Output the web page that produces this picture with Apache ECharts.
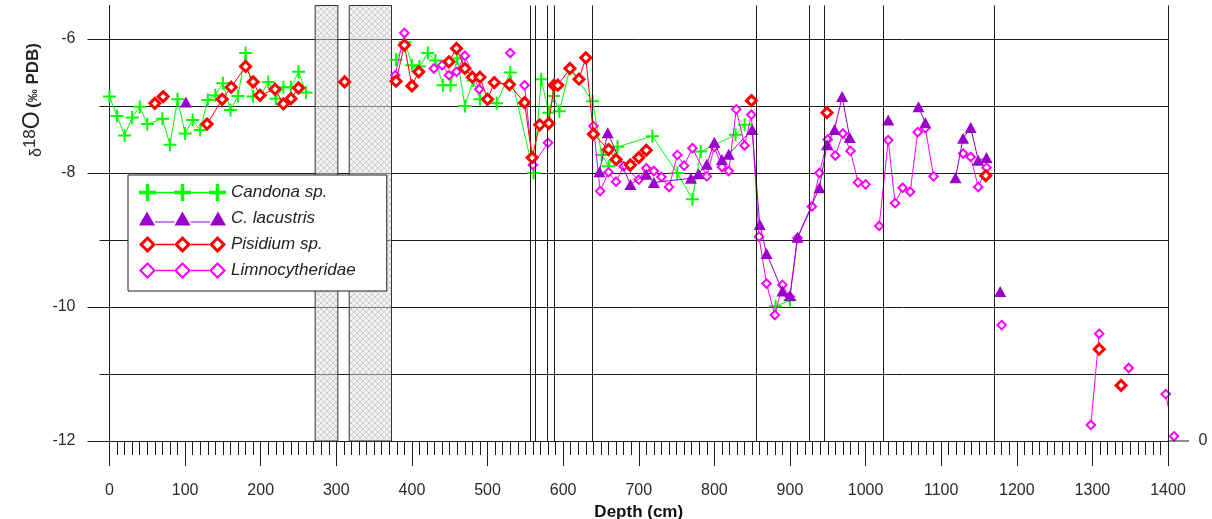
<!DOCTYPE html>
<html>
<head>
<meta charset="utf-8">
<script src="https://cdn.jsdelivr.net/npm/echarts@6/dist/echarts.min.js"></script>
<style>
html,body{margin:0;padding:0;background:#fff;}
#chart{width:1212px;height:519px;}
</style>
</head>
<body>
<div id="chart"></div>
<script>
// ---------------- data (depth in cm, d18O in ‰ PDB); null = break in the line
const candonaDepth = [0,10,20,30,40,50,70,80,90,100,110,120,130,140,150,160,170,180,190,200,210,220,230,240,250,260,null,379,391,400,410,421,431,441,451,460,470,481,490,499,512,530,561,571,581,587,595,609,639,651,660,672,718,751,771,782,828,840,null,881,900];
const candonaD18O = [-6.86,-7.15,-7.44,-7.17,-7.01,-7.27,-7.19,-7.58,-6.90,-7.41,-7.21,-7.36,-6.91,-6.84,-6.66,-7.06,-6.85,-6.21,-6.86,-6.84,-6.64,-6.89,-6.72,-6.72,-6.49,-6.80,null,-6.31,-6.05,-6.39,-6.41,-6.21,-6.32,-6.69,-6.69,-6.29,-7.00,-6.62,-6.90,-6.90,-6.96,-6.50,-8.00,-6.60,-7.10,-6.85,-7.08,-6.44,-6.93,-7.73,-7.90,-7.61,-7.45,-8.00,-8.39,-7.68,-7.43,-7.28,null,-9.99,-9.90];

const lacustrisDepth = [101,null,648,659,689,710,720,769,779,790,800,810,819,850,860,869,890,900,910,939,949,959,969,979,null,1030,null,1070,1079,null,1119,1129,1139,1149,1160,null,1178];
const lacustrisD18O = [-6.94,null,-7.98,-7.40,-8.17,-8.02,-8.14,-8.08,-8.01,-7.87,-7.54,-7.80,-7.72,-7.35,-8.77,-9.20,-9.76,-9.83,-8.96,-8.22,-7.58,-7.35,-6.86,-7.47,null,-7.21,null,-7.01,-7.25,null,-8.07,-7.48,-7.32,-7.81,-7.77,null,-9.77];

const pisidiumDepth = [60,71,null,129,149,161,180,190,199,219,230,240,250,null,311,null,379,390,400,409,null,449,459,470,480,490,500,509,529,549,559,569,581,588,593,609,621,630,640,660,670,689,700,710,null,849,null,949,null,1159,null,1309,null,1338];
const pisidiumD18O = [-6.96,-6.86,null,-7.27,-6.90,-6.72,-6.41,-6.64,-6.84,-6.75,-6.97,-6.89,-6.73,null,-6.64,null,-6.63,-6.09,-6.70,-6.49,null,-6.34,-6.14,-6.44,-6.57,-6.57,-6.90,-6.65,-6.68,-6.95,-7.77,-7.28,-7.26,-6.69,-6.69,-6.44,-6.60,-6.28,-7.42,-7.65,-7.80,-7.88,-7.77,-7.66,null,-6.92,null,-7.10,null,-8.04,null,-10.63,null,-11.17];

const limnoDepth = [378,390,null,429,440,449,459,470,489,null,530,null,549,560,580,null,640,649,660,670,680,700,710,720,730,740,751,760,771,790,800,810,819,829,840,849,859,869,880,890,900,910,929,939,950,960,970,980,990,1000,null,1018,1030,1039,1049,1059,1069,1079,1090,null,1129,1139,1149,1160,null,1180,null,1298,1309,null,1348,null,1397,1408];
const limnoD18O = [-6.54,-5.91,null,-6.44,-6.39,-6.54,-6.49,-6.25,-6.75,null,-6.21,null,-6.69,-7.88,-7.55,null,-7.30,-8.27,-7.99,-8.13,-7.90,-8.10,-7.93,-7.97,-8.06,-8.21,-7.73,-7.89,-7.63,-8.05,-7.61,-7.91,-7.97,-7.05,-7.59,-7.13,-8.95,-9.65,-10.12,-9.67,-9.85,-8.97,-8.50,-8.00,-7.50,-7.74,-7.41,-7.67,-8.14,-8.17,null,-8.79,-7.51,-8.45,-8.22,-8.28,-7.39,-7.33,-8.05,null,-7.71,-7.76,-8.21,-7.92,null,-10.27,null,-11.76,-10.40,null,-10.91,null,-11.30,-11.93];

const boundaryDepths = [556,563,579,588,638,856,925,945,1023,1170,1400];
const gapStart = [272,317];
const gapEnd = [302,373];

const seriesNames = ['Candona sp.','C. lacustris','Pisidium sp.','Limnocytheridae'];
const xTicks = [0,100,200,300,400,500,600,700,800,900,1000,1100,1200,1300,1400];
const yLabelTicks = [-12,-10,-8,-6];
const yGridTicks = [-12,-11,-10,-9,-8,-7,-6];

// ---------------- helpers
function pairs(ds, vs){ return ds.map((d,i)=> d===null ? ['-','-'] : [d, vs[i]]); }

const FONT = 'Liberation Sans, Arial, sans-serif';
const INK = '#1e1e1e';
const GREEN = '#00ff00', PURPLE = '#9900cc', RED = '#ff0000', MAGENTA = '#ff00ff';

// hatch pattern for the gap areas
const pat = document.createElement('canvas');
pat.width = 6; pat.height = 6;
(function(){
  const c = pat.getContext('2d');
  c.fillStyle = 'rgba(225,225,225,0.45)';
  c.fillRect(0,0,6,6);
  c.strokeStyle = 'rgba(165,165,165,0.45)';
  c.lineWidth = 1;
  c.beginPath();
  c.moveTo(0,0); c.lineTo(6,6);
  c.moveTo(6,0); c.lineTo(0,6);
  c.stroke();
})();

// legend icons (87 x 17), three markers joined by a line
function plusAt(cx){ return `M${cx-1.75},0h3.5v6.75h6.75v3.5h-6.75v6.75h-3.5v-6.75h-6.75v-3.5h6.75z`; }
function diamondAt(cx, hole){ return `M${cx},0L${cx+8.5},8.5L${cx},17L${cx-8.5},8.5Z M${cx},${8.5-hole}L${cx-hole},8.5L${cx},${8.5+hole}L${cx+hole},8.5Z`; }
function seg(x1,x2,y,t){ return `M${x1},${y-t/2}H${x2}V${y+t/2}H${x1}Z`; }
const centers = [8.5,43.5,78.5];
const iconPlus = 'path://' + centers.map(plusAt).join(' ') + seg(17,35,8.5,1.6) + seg(52,70,8.5,1.6);
const iconTri = 'path://' + [8,43.5,79].map(c=>`M${c},0L${c+8},14L${c-8},14Z`).join(' ') + seg(16,35.5,10.5,1.2) + seg(51.5,71,10.5,1.2);
const iconPis = 'path://' + centers.map(c=>diamondAt(c,4.3)).join(' ') + seg(17,35,8.5,1.4) + seg(52,70,8.5,1.4);
const iconLim = 'path://' + centers.map(c=>diamondAt(c,5.6)).join(' ') + seg(17,35,8.5,1.4) + seg(52,70,8.5,1.4);

const chart = echarts.init(document.getElementById('chart'), null, {renderer:'canvas'});

const option = {
  animation: false,
  backgroundColor: '#ffffff',
  grid: {left: 109.5, right: 44, top: 5.5, bottom: 78, containLabel: false, outerBoundsMode: 'none'},
  legend: {
    orient: 'vertical',
    left: 128, top: 175,
    backgroundColor: '#ffffff',
    borderColor: INK, borderWidth: 1,
    padding: [9, 31, 12, 11],
    itemGap: 9,
    itemWidth: 87, itemHeight: 17,
    itemTextGap: 11,
    selectedMode: false,
    symbolKeepAspect: true,
    textStyle: {fontFamily: FONT, fontStyle: 'italic', fontSize: 17, color: '#222'},
    data: [
      {name: seriesNames[0], icon: iconPlus, itemStyle: {color: GREEN, borderWidth: 0}},
      {name: seriesNames[1], icon: iconTri, itemStyle: {color: PURPLE, borderWidth: 0}},
      {name: seriesNames[2], icon: iconPis, itemStyle: {color: RED, borderWidth: 0}},
      {name: seriesNames[3], icon: iconLim, itemStyle: {color: MAGENTA, borderWidth: 0}}
    ]
  },
  xAxis: {
    type: 'value', min: 0, max: 1400, interval: 100,
    axisLine: {show: true, lineStyle: {color: INK, width: 1}},
    axisTick: {show: true, inside: false, length: 25, lineStyle: {color: INK, width: 1}, customValues: xTicks},
    minorTick: {show: true, splitNumber: 10, length: 14, lineStyle: {color: INK, width: 1}},
    axisLabel: {margin: 42, fontFamily: FONT, fontSize: 16, color: '#2a2a2a', customValues: xTicks,
                formatter: v => String(v)},
    splitLine: {show: false},
    name: 'Depth (cm)', nameLocation: 'middle', nameGap: 61,
    nameTextStyle: {fontFamily: FONT, fontWeight: 'bold', fontSize: 17, color: '#111'}
  },
  yAxis: [
    {
      type: 'value', min: -12, max: -5.5, interval: 2, position: 'left',
      axisLine: {show: true, onZero: false, lineStyle: {color: INK, width: 1}},
      axisTick: {show: true, inside: false, length: 22, lineStyle: {color: INK, width: 1}, customValues: yLabelTicks},
      axisLabel: {margin: 34, fontFamily: FONT, fontSize: 16, color: '#2a2a2a', customValues: yLabelTicks,
                  formatter: v => String(v)},
      splitLine: {show: false}
    },
    {
      type: 'value', min: -12, max: -5.5, interval: 1, position: 'left',
      axisLine: {show: false},
      axisTick: {show: true, inside: false, length: 10, lineStyle: {color: INK, width: 1}, customValues: yGridTicks},
      axisLabel: {show: false},
      splitLine: {show: true, lineStyle: {color: INK, width: 1}}
    }
  ],
  graphic: [
    {
      type: 'text', x: 33, y: 100, rotation: Math.PI / 2, z: 10,
      style: {
        text: '{d|δ}{s|18}{o|O} {p|(}{m|‰}{p| PDB)}',
        align: 'center', verticalAlign: 'middle', fill: '#222',
        rich: {
          d: {fontFamily: FONT, fontSize: 16, fill: '#222', verticalAlign: 'bottom'},
          s: {fontFamily: FONT, fontSize: 17, fill: '#222', verticalAlign: 'top'},
          o: {fontFamily: FONT, fontSize: 23, fill: '#222'},
          p: {fontFamily: FONT, fontSize: 17, fontWeight: 'bold', fill: '#222'},
          m: {fontFamily: FONT, fontSize: 13, fontWeight: 'bold', fill: '#222'}
        }
      }
    },
    {type: 'line', z: 10, shape: {x1: 1167.5, y1: 441, x2: 1189, y2: 441}, style: {stroke: INK, lineWidth: 1}},
    {type: 'text', z: 10, x: 1203, y: 441, style: {text: '0', align: 'center', verticalAlign: 'middle', fontFamily: FONT, fontSize: 16, fill: '#2a2a2a'}}
  ],
  series: [
    {
      name: seriesNames[0], type: 'line', clip: false, connectNulls: false,
      data: pairs(candonaDepth, candonaD18O),
      symbol: 'path://M5.5,0h2v5.5h5.5v2h-5.5v5.5h-2v-5.5h-5.5v-2h5.5z', symbolSize: 13,
      itemStyle: {color: GREEN, borderWidth: 0},
      lineStyle: {color: GREEN, width: 1},
      z: 2,
      markArea: {
        silent: true,
        itemStyle: {color: {image: pat, repeat: 'repeat'}, borderColor: '#333', borderWidth: 1},
        data: gapStart.map((s,i)=>[{xAxis: s},{xAxis: gapEnd[i]}])
      },
      markLine: {
        silent: true, symbol: 'none',
        label: {show: false},
        lineStyle: {color: INK, width: 1, type: 'solid'},
        emphasis: {disabled: true},
        data: boundaryDepths.map(d=>({xAxis: d}))
      }
    },
    {
      name: seriesNames[3], type: 'line', clip: false, connectNulls: false,
      data: pairs(limnoDepth, limnoD18O),
      symbol: 'diamond', symbolSize: 8.5,
      itemStyle: {color: '#ffffff', borderColor: MAGENTA, borderWidth: 2},
      lineStyle: {color: MAGENTA, width: 1},
      z: 3
    },
    {
      name: seriesNames[1], type: 'line', clip: false, connectNulls: false,
      data: pairs(lacustrisDepth, lacustrisD18O),
      symbol: 'triangle', symbolSize: [12, 11],
      itemStyle: {color: PURPLE, borderWidth: 0},
      lineStyle: {color: PURPLE, width: 1},
      z: 4
    },
    {
      name: seriesNames[2], type: 'line', clip: false, connectNulls: false,
      data: pairs(pisidiumDepth, pisidiumD18O),
      symbol: 'diamond', symbolSize: 10,
      itemStyle: {color: '#ffffff', borderColor: RED, borderWidth: 3},
      lineStyle: {color: RED, width: 1},
      z: 5
    }
  ]
};
chart.setOption(option);
</script>
</body>
</html>
